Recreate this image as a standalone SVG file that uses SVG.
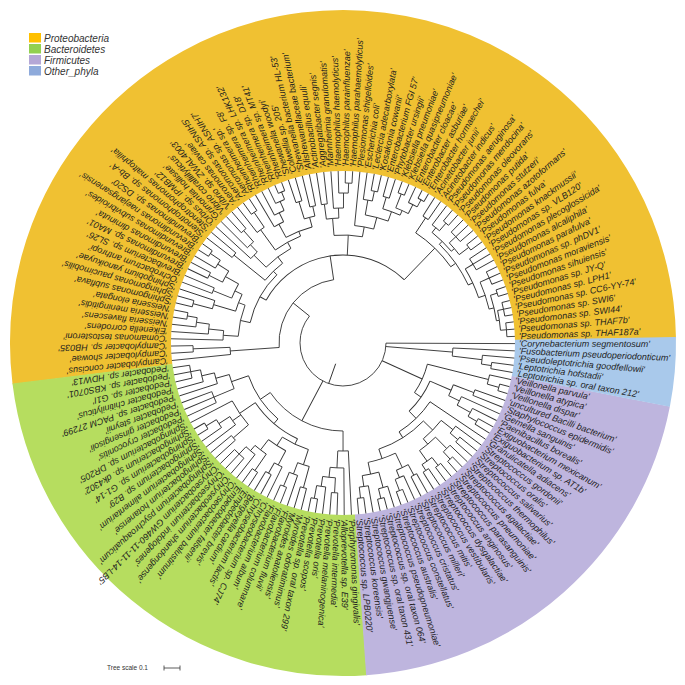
<svg xmlns="http://www.w3.org/2000/svg" width="685" height="685" viewBox="0 0 685 685">
<style>
.l{font-family:"Liberation Sans",Arial,sans-serif;font-style:italic;font-size:9px;fill:#1e1e1e}
.lg{font-family:"Liberation Sans",Arial,sans-serif;font-style:italic;font-size:10px;fill:#333}
.s{fill:none;stroke-width:161}
</style>
<rect width="685" height="685" fill="#fff"/>
<g id="sectors" transform="translate(343 343)">
<circle class="s" r="252.5" stroke="#F0C132" pathLength="360" stroke-dasharray="186.2 999" transform="rotate(172.9)"/>
<circle class="s" r="252.5" stroke="#B6DD5F" pathLength="360" stroke-dasharray="87.1 999" transform="rotate(85.9)"/>
<circle class="s" r="252.5" stroke="#BEB5DE" pathLength="360" stroke-dasharray="75 999" transform="rotate(11)"/>
<circle class="s" r="252.5" stroke="#A9C9EB" pathLength="360" stroke-dasharray="12.1 999" transform="rotate(-1.05)"/>
</g>
<g id="legend">
<rect x="29" y="33" width="12" height="9.5" fill="#FFC000"/><text class="lg" x="44" y="41.5">Proteobacteria</text>
<rect x="29" y="44" width="12" height="9.5" fill="#92D050"/><text class="lg" x="44" y="52.5">Bacteroidetes</text>
<rect x="29" y="55" width="12" height="9.5" fill="#B4A7D6"/><text class="lg" x="44" y="63.5">Firmicutes</text>
<rect x="29" y="66" width="12" height="9.5" fill="#8EAADB"/><text class="lg" x="44" y="74.5">Other_phyla</text>
</g>
<g id="scale">
<text x="107" y="670" font-family="Liberation Sans, Arial, sans-serif" font-size="6.5" fill="#333">Tree scale 0.1</text>
<path d="M164 668H180M164 665.5V670.5M180 665.5V670.5" stroke="#333" stroke-width="0.8" fill="none"/>
</g>
<g id="connectors" transform="translate(343 343)" fill="none" stroke="#333" stroke-width="0.9">
<line x1="22" x2="43" transform="rotate(109.49)"/>
<circle r="43" pathLength="360" stroke-dasharray="218.59 999" transform="rotate(0.2)"/>
<line x1="43" x2="172" transform="rotate(0.2)"/>
<line x1="43" x2="110" transform="rotate(4.73)"/>
<line x1="43" x2="87" transform="rotate(24.42)"/>
<line x1="43" x2="88" transform="rotate(117.85)"/>
<line x1="43" x2="64" transform="rotate(218.785)"/>
<circle r="110" pathLength="360" stroke-dasharray="4.22 999" transform="rotate(2.62)"/>
<line x1="110" x2="172" transform="rotate(2.62)"/>
<line x1="110" x2="140" transform="rotate(6.84)"/>
<circle r="140" pathLength="360" stroke-dasharray="3.625 999" transform="rotate(5.03)"/>
<line x1="140" x2="172" transform="rotate(5.03)"/>
<line x1="140" x2="150" transform="rotate(8.655)"/>
<circle r="150" pathLength="360" stroke-dasharray="2.41 999" transform="rotate(7.45)"/>
<line x1="150" x2="172" transform="rotate(7.45)"/>
<line x1="150" x2="172" transform="rotate(9.86)"/>
<circle r="87" pathLength="360" stroke-dasharray="20.65 999" transform="rotate(14.09)"/>
<line x1="87" x2="150" transform="rotate(14.09)"/>
<line x1="87" x2="95" transform="rotate(34.74)"/>
<circle r="150" pathLength="360" stroke-dasharray="3.625 999" transform="rotate(12.28)"/>
<line x1="150" x2="172" transform="rotate(12.28)"/>
<line x1="150" x2="162" transform="rotate(15.905)"/>
<circle r="162" pathLength="360" stroke-dasharray="2.41 999" transform="rotate(14.7)"/>
<line x1="162" x2="172" transform="rotate(14.7)"/>
<line x1="162" x2="172" transform="rotate(17.11)"/>
<circle r="95" pathLength="360" stroke-dasharray="22.275 999" transform="rotate(23.605)"/>
<line x1="95" x2="118" transform="rotate(23.605)"/>
<line x1="95" x2="105" transform="rotate(45.88)"/>
<circle r="118" pathLength="360" stroke-dasharray="5.74 999" transform="rotate(20.735)"/>
<line x1="118" x2="140" transform="rotate(20.735)"/>
<line x1="118" x2="130" transform="rotate(26.475)"/>
<circle r="140" pathLength="360" stroke-dasharray="2.41 999" transform="rotate(19.53)"/>
<line x1="140" x2="172" transform="rotate(19.53)"/>
<line x1="140" x2="172" transform="rotate(21.94)"/>
<circle r="130" pathLength="360" stroke-dasharray="4.23 999" transform="rotate(24.36)"/>
<line x1="130" x2="172" transform="rotate(24.36)"/>
<line x1="130" x2="145" transform="rotate(28.59)"/>
<circle r="145" pathLength="360" stroke-dasharray="3.62 999" transform="rotate(26.78)"/>
<line x1="145" x2="172" transform="rotate(26.78)"/>
<line x1="145" x2="155" transform="rotate(30.4)"/>
<circle r="155" pathLength="360" stroke-dasharray="2.42 999" transform="rotate(29.19)"/>
<line x1="155" x2="172" transform="rotate(29.19)"/>
<line x1="155" x2="172" transform="rotate(31.61)"/>
<circle r="105" pathLength="360" stroke-dasharray="23.7 999" transform="rotate(34.03)"/>
<line x1="105" x2="172" transform="rotate(34.03)"/>
<line x1="105" x2="112" transform="rotate(57.73)"/>
<circle r="112" pathLength="360" stroke-dasharray="27.185 999" transform="rotate(44.14)"/>
<line x1="112" x2="125" transform="rotate(44.14)"/>
<line x1="112" x2="122" transform="rotate(71.325)"/>
<circle r="125" pathLength="360" stroke-dasharray="11.78 999" transform="rotate(38.25)"/>
<line x1="125" x2="140" transform="rotate(38.25)"/>
<line x1="125" x2="132" transform="rotate(50.03)"/>
<circle r="140" pathLength="360" stroke-dasharray="3.625 999" transform="rotate(36.44)"/>
<line x1="140" x2="172" transform="rotate(36.44)"/>
<line x1="140" x2="150" transform="rotate(40.065)"/>
<circle r="150" pathLength="360" stroke-dasharray="2.41 999" transform="rotate(38.86)"/>
<line x1="150" x2="172" transform="rotate(38.86)"/>
<line x1="150" x2="172" transform="rotate(41.27)"/>
<circle r="132" pathLength="360" stroke-dasharray="9.06 999" transform="rotate(45.5)"/>
<line x1="132" x2="148" transform="rotate(45.5)"/>
<line x1="132" x2="145" transform="rotate(54.56)"/>
<circle r="148" pathLength="360" stroke-dasharray="3.625 999" transform="rotate(43.69)"/>
<line x1="148" x2="172" transform="rotate(43.69)"/>
<line x1="148" x2="158" transform="rotate(47.315)"/>
<circle r="158" pathLength="360" stroke-dasharray="2.41 999" transform="rotate(46.11)"/>
<line x1="158" x2="172" transform="rotate(46.11)"/>
<line x1="158" x2="172" transform="rotate(48.52)"/>
<circle r="145" pathLength="360" stroke-dasharray="4.835 999" transform="rotate(52.145)"/>
<line x1="145" x2="155" transform="rotate(52.145)"/>
<line x1="145" x2="152" transform="rotate(56.98)"/>
<circle r="155" pathLength="360" stroke-dasharray="2.41 999" transform="rotate(50.94)"/>
<line x1="155" x2="172" transform="rotate(50.94)"/>
<line x1="155" x2="172" transform="rotate(53.35)"/>
<circle r="152" pathLength="360" stroke-dasharray="2.42 999" transform="rotate(55.77)"/>
<line x1="152" x2="172" transform="rotate(55.77)"/>
<line x1="152" x2="172" transform="rotate(58.19)"/>
<circle r="122" pathLength="360" stroke-dasharray="13.59 999" transform="rotate(64.53)"/>
<line x1="122" x2="138" transform="rotate(64.53)"/>
<line x1="122" x2="134" transform="rotate(78.12)"/>
<circle r="138" pathLength="360" stroke-dasharray="5.435 999" transform="rotate(61.81)"/>
<line x1="138" x2="150" transform="rotate(61.81)"/>
<line x1="138" x2="146" transform="rotate(67.245)"/>
<circle r="150" pathLength="360" stroke-dasharray="2.42 999" transform="rotate(60.6)"/>
<line x1="150" x2="172" transform="rotate(60.6)"/>
<line x1="150" x2="172" transform="rotate(63.02)"/>
<circle r="146" pathLength="360" stroke-dasharray="3.63 999" transform="rotate(65.43)"/>
<line x1="146" x2="172" transform="rotate(65.43)"/>
<line x1="146" x2="158" transform="rotate(69.06)"/>
<circle r="158" pathLength="360" stroke-dasharray="2.42 999" transform="rotate(67.85)"/>
<line x1="158" x2="172" transform="rotate(67.85)"/>
<line x1="158" x2="172" transform="rotate(70.27)"/>
<circle r="134" pathLength="360" stroke-dasharray="7.24 999" transform="rotate(74.5)"/>
<line x1="134" x2="150" transform="rotate(74.5)"/>
<line x1="134" x2="145" transform="rotate(81.74)"/>
<circle r="150" pathLength="360" stroke-dasharray="3.63 999" transform="rotate(72.68)"/>
<line x1="150" x2="172" transform="rotate(72.68)"/>
<line x1="150" x2="160" transform="rotate(76.31)"/>
<circle r="160" pathLength="360" stroke-dasharray="2.42 999" transform="rotate(75.1)"/>
<line x1="160" x2="172" transform="rotate(75.1)"/>
<line x1="160" x2="172" transform="rotate(77.52)"/>
<circle r="145" pathLength="360" stroke-dasharray="3.625 999" transform="rotate(79.93)"/>
<line x1="145" x2="172" transform="rotate(79.93)"/>
<line x1="145" x2="156" transform="rotate(83.555)"/>
<circle r="156" pathLength="360" stroke-dasharray="2.41 999" transform="rotate(82.35)"/>
<line x1="156" x2="172" transform="rotate(82.35)"/>
<line x1="156" x2="172" transform="rotate(84.76)"/>
<circle r="88" pathLength="360" stroke-dasharray="55.755 999" transform="rotate(89.975)"/>
<line x1="88" x2="108" transform="rotate(89.975)"/>
<line x1="88" x2="100" transform="rotate(145.73)"/>
<circle r="108" pathLength="360" stroke-dasharray="5.59 999" transform="rotate(87.18)"/>
<line x1="108" x2="172" transform="rotate(87.18)"/>
<line x1="108" x2="125" transform="rotate(92.77)"/>
<circle r="125" pathLength="360" stroke-dasharray="6.34 999" transform="rotate(89.6)"/>
<line x1="125" x2="172" transform="rotate(89.6)"/>
<line x1="125" x2="135" transform="rotate(95.94)"/>
<circle r="135" pathLength="360" stroke-dasharray="5.435 999" transform="rotate(93.22)"/>
<line x1="135" x2="150" transform="rotate(93.22)"/>
<line x1="135" x2="145" transform="rotate(98.655)"/>
<circle r="150" pathLength="360" stroke-dasharray="2.42 999" transform="rotate(92.01)"/>
<line x1="150" x2="172" transform="rotate(92.01)"/>
<line x1="150" x2="172" transform="rotate(94.43)"/>
<circle r="145" pathLength="360" stroke-dasharray="3.63 999" transform="rotate(96.84)"/>
<line x1="145" x2="172" transform="rotate(96.84)"/>
<line x1="145" x2="158" transform="rotate(100.47)"/>
<circle r="158" pathLength="360" stroke-dasharray="2.42 999" transform="rotate(99.26)"/>
<line x1="158" x2="172" transform="rotate(99.26)"/>
<line x1="158" x2="172" transform="rotate(101.68)"/>
<circle r="100" pathLength="360" stroke-dasharray="30.275 999" transform="rotate(130.595)"/>
<line x1="100" x2="106" transform="rotate(130.595)"/>
<line x1="100" x2="118" transform="rotate(160.87)"/>
<circle r="106" pathLength="360" stroke-dasharray="30.35 999" transform="rotate(115.42)"/>
<line x1="106" x2="112" transform="rotate(115.42)"/>
<line x1="106" x2="125" transform="rotate(145.77)"/>
<circle r="112" pathLength="360" stroke-dasharray="14.8 999" transform="rotate(108.02)"/>
<line x1="112" x2="128" transform="rotate(108.02)"/>
<line x1="112" x2="122" transform="rotate(122.82)"/>
<circle r="128" pathLength="360" stroke-dasharray="5.435 999" transform="rotate(105.3)"/>
<line x1="128" x2="150" transform="rotate(105.3)"/>
<line x1="128" x2="140" transform="rotate(110.735)"/>
<circle r="150" pathLength="360" stroke-dasharray="2.42 999" transform="rotate(104.09)"/>
<line x1="150" x2="172" transform="rotate(104.09)"/>
<line x1="150" x2="172" transform="rotate(106.51)"/>
<circle r="140" pathLength="360" stroke-dasharray="3.63 999" transform="rotate(108.92)"/>
<line x1="140" x2="172" transform="rotate(108.92)"/>
<line x1="140" x2="155" transform="rotate(112.55)"/>
<circle r="155" pathLength="360" stroke-dasharray="2.42 999" transform="rotate(111.34)"/>
<line x1="155" x2="172" transform="rotate(111.34)"/>
<line x1="155" x2="172" transform="rotate(113.76)"/>
<circle r="122" pathLength="360" stroke-dasharray="9.665 999" transform="rotate(117.985)"/>
<line x1="122" x2="138" transform="rotate(117.985)"/>
<line x1="122" x2="135" transform="rotate(127.65)"/>
<circle r="138" pathLength="360" stroke-dasharray="3.63 999" transform="rotate(116.17)"/>
<line x1="138" x2="172" transform="rotate(116.17)"/>
<line x1="138" x2="150" transform="rotate(119.8)"/>
<circle r="150" pathLength="360" stroke-dasharray="2.42 999" transform="rotate(118.59)"/>
<line x1="150" x2="172" transform="rotate(118.59)"/>
<line x1="150" x2="172" transform="rotate(121.01)"/>
<circle r="135" pathLength="360" stroke-dasharray="6.04 999" transform="rotate(124.63)"/>
<line x1="135" x2="155" transform="rotate(124.63)"/>
<line x1="135" x2="142" transform="rotate(130.67)"/>
<circle r="155" pathLength="360" stroke-dasharray="2.42 999" transform="rotate(123.42)"/>
<line x1="155" x2="172" transform="rotate(123.42)"/>
<line x1="155" x2="172" transform="rotate(125.84)"/>
<circle r="142" pathLength="360" stroke-dasharray="4.835 999" transform="rotate(128.25)"/>
<line x1="142" x2="172" transform="rotate(128.25)"/>
<line x1="142" x2="152" transform="rotate(133.085)"/>
<circle r="152" pathLength="360" stroke-dasharray="4.83 999" transform="rotate(130.67)"/>
<line x1="152" x2="172" transform="rotate(130.67)"/>
<line x1="152" x2="172" transform="rotate(133.09)"/>
<line x1="152" x2="172" transform="rotate(135.5)"/>
<circle r="125" pathLength="360" stroke-dasharray="13.285 999" transform="rotate(139.125)"/>
<line x1="125" x2="145" transform="rotate(139.125)"/>
<line x1="125" x2="135" transform="rotate(144.865)"/>
<line x1="125" x2="172" transform="rotate(152.41)"/>
<circle r="145" pathLength="360" stroke-dasharray="2.41 999" transform="rotate(137.92)"/>
<line x1="145" x2="172" transform="rotate(137.92)"/>
<line x1="145" x2="172" transform="rotate(140.33)"/>
<circle r="135" pathLength="360" stroke-dasharray="4.23 999" transform="rotate(142.75)"/>
<line x1="135" x2="172" transform="rotate(142.75)"/>
<line x1="135" x2="148" transform="rotate(146.98)"/>
<circle r="148" pathLength="360" stroke-dasharray="3.62 999" transform="rotate(145.17)"/>
<line x1="148" x2="172" transform="rotate(145.17)"/>
<line x1="148" x2="160" transform="rotate(148.79)"/>
<circle r="160" pathLength="360" stroke-dasharray="2.42 999" transform="rotate(147.58)"/>
<line x1="160" x2="172" transform="rotate(147.58)"/>
<line x1="160" x2="172" transform="rotate(150)"/>
<circle r="118" pathLength="360" stroke-dasharray="7.25 999" transform="rotate(157.245)"/>
<line x1="118" x2="140" transform="rotate(157.245)"/>
<line x1="118" x2="132" transform="rotate(164.495)"/>
<circle r="140" pathLength="360" stroke-dasharray="4.83 999" transform="rotate(154.83)"/>
<line x1="140" x2="172" transform="rotate(154.83)"/>
<line x1="140" x2="172" transform="rotate(157.25)"/>
<line x1="140" x2="172" transform="rotate(159.66)"/>
<circle r="132" pathLength="360" stroke-dasharray="4.83 999" transform="rotate(162.08)"/>
<line x1="132" x2="172" transform="rotate(162.08)"/>
<line x1="132" x2="145" transform="rotate(166.91)"/>
<circle r="145" pathLength="360" stroke-dasharray="4.825 999" transform="rotate(164.5)"/>
<line x1="145" x2="172" transform="rotate(164.5)"/>
<line x1="145" x2="155" transform="rotate(169.325)"/>
<circle r="155" pathLength="360" stroke-dasharray="4.83 999" transform="rotate(166.91)"/>
<line x1="155" x2="172" transform="rotate(166.91)"/>
<line x1="155" x2="172" transform="rotate(169.33)"/>
<line x1="155" x2="172" transform="rotate(171.74)"/>
<circle r="64" pathLength="360" stroke-dasharray="85.63 999" transform="rotate(175.97)"/>
<line x1="64" x2="113" transform="rotate(175.97)"/>
<line x1="64" x2="88" transform="rotate(261.6)"/>
<circle r="113" pathLength="360" stroke-dasharray="3.625 999" transform="rotate(174.16)"/>
<line x1="113" x2="172" transform="rotate(174.16)"/>
<line x1="113" x2="150" transform="rotate(177.785)"/>
<circle r="150" pathLength="360" stroke-dasharray="2.41 999" transform="rotate(176.58)"/>
<line x1="150" x2="172" transform="rotate(176.58)"/>
<line x1="150" x2="172" transform="rotate(178.99)"/>
<circle r="88" pathLength="360" stroke-dasharray="104.94 999" transform="rotate(209.13)"/>
<line x1="88" x2="95" transform="rotate(209.13)"/>
<line x1="88" x2="108" transform="rotate(272.79)"/>
<line x1="88" x2="132" transform="rotate(314.07)"/>
<circle r="95" pathLength="360" stroke-dasharray="33.475 999" transform="rotate(192.395)"/>
<line x1="95" x2="105" transform="rotate(192.395)"/>
<line x1="95" x2="100" transform="rotate(225.87)"/>
<circle r="105" pathLength="360" stroke-dasharray="17.44 999" transform="rotate(183.675)"/>
<line x1="105" x2="120" transform="rotate(183.675)"/>
<line x1="105" x2="112" transform="rotate(201.115)"/>
<circle r="120" pathLength="360" stroke-dasharray="4.53 999" transform="rotate(181.41)"/>
<line x1="120" x2="172" transform="rotate(181.41)"/>
<line x1="120" x2="135" transform="rotate(185.94)"/>
<circle r="135" pathLength="360" stroke-dasharray="4.23 999" transform="rotate(183.82)"/>
<line x1="135" x2="172" transform="rotate(183.82)"/>
<line x1="135" x2="148" transform="rotate(188.05)"/>
<circle r="148" pathLength="360" stroke-dasharray="3.625 999" transform="rotate(186.24)"/>
<line x1="148" x2="172" transform="rotate(186.24)"/>
<line x1="148" x2="158" transform="rotate(189.865)"/>
<circle r="158" pathLength="360" stroke-dasharray="2.41 999" transform="rotate(188.66)"/>
<line x1="158" x2="172" transform="rotate(188.66)"/>
<line x1="158" x2="172" transform="rotate(191.07)"/>
<circle r="112" pathLength="360" stroke-dasharray="9.21 999" transform="rotate(196.51)"/>
<line x1="112" x2="135" transform="rotate(196.51)"/>
<line x1="112" x2="120" transform="rotate(205.72)"/>
<circle r="135" pathLength="360" stroke-dasharray="3.625 999" transform="rotate(194.695)"/>
<line x1="135" x2="155" transform="rotate(194.695)"/>
<line x1="135" x2="172" transform="rotate(198.32)"/>
<circle r="155" pathLength="360" stroke-dasharray="2.41 999" transform="rotate(193.49)"/>
<line x1="155" x2="172" transform="rotate(193.49)"/>
<line x1="155" x2="172" transform="rotate(195.9)"/>
<circle r="120" pathLength="360" stroke-dasharray="7.555 999" transform="rotate(201.945)"/>
<line x1="120" x2="140" transform="rotate(201.945)"/>
<line x1="120" x2="135" transform="rotate(209.5)"/>
<circle r="140" pathLength="360" stroke-dasharray="2.41 999" transform="rotate(200.74)"/>
<line x1="140" x2="172" transform="rotate(200.74)"/>
<line x1="140" x2="172" transform="rotate(203.15)"/>
<circle r="135" pathLength="360" stroke-dasharray="5.43 999" transform="rotate(206.78)"/>
<line x1="135" x2="150" transform="rotate(206.78)"/>
<line x1="135" x2="148" transform="rotate(212.21)"/>
<circle r="150" pathLength="360" stroke-dasharray="2.42 999" transform="rotate(205.57)"/>
<line x1="150" x2="172" transform="rotate(205.57)"/>
<line x1="150" x2="172" transform="rotate(207.99)"/>
<circle r="148" pathLength="360" stroke-dasharray="3.625 999" transform="rotate(210.4)"/>
<line x1="148" x2="172" transform="rotate(210.4)"/>
<line x1="148" x2="160" transform="rotate(214.025)"/>
<circle r="160" pathLength="360" stroke-dasharray="2.41 999" transform="rotate(212.82)"/>
<line x1="160" x2="172" transform="rotate(212.82)"/>
<line x1="160" x2="172" transform="rotate(215.23)"/>
<circle r="100" pathLength="360" stroke-dasharray="14.02 999" transform="rotate(218.86)"/>
<line x1="100" x2="140" transform="rotate(218.86)"/>
<line x1="100" x2="108" transform="rotate(232.88)"/>
<circle r="140" pathLength="360" stroke-dasharray="2.42 999" transform="rotate(217.65)"/>
<line x1="140" x2="172" transform="rotate(217.65)"/>
<line x1="140" x2="172" transform="rotate(220.07)"/>
<circle r="108" pathLength="360" stroke-dasharray="16.575 999" transform="rotate(224.595)"/>
<line x1="108" x2="125" transform="rotate(224.595)"/>
<line x1="108" x2="115" transform="rotate(241.17)"/>
<circle r="125" pathLength="360" stroke-dasharray="4.23 999" transform="rotate(222.48)"/>
<line x1="125" x2="172" transform="rotate(222.48)"/>
<line x1="125" x2="135" transform="rotate(226.71)"/>
<circle r="135" pathLength="360" stroke-dasharray="3.62 999" transform="rotate(224.9)"/>
<line x1="135" x2="172" transform="rotate(224.9)"/>
<line x1="135" x2="150" transform="rotate(228.52)"/>
<circle r="150" pathLength="360" stroke-dasharray="2.42 999" transform="rotate(227.31)"/>
<line x1="150" x2="172" transform="rotate(227.31)"/>
<line x1="150" x2="172" transform="rotate(229.73)"/>
<circle r="115" pathLength="360" stroke-dasharray="14.42 999" transform="rotate(233.96)"/>
<line x1="115" x2="140" transform="rotate(233.96)"/>
<line x1="115" x2="120" transform="rotate(248.38)"/>
<circle r="140" pathLength="360" stroke-dasharray="3.62 999" transform="rotate(232.15)"/>
<line x1="140" x2="172" transform="rotate(232.15)"/>
<line x1="140" x2="158" transform="rotate(235.77)"/>
<circle r="158" pathLength="360" stroke-dasharray="2.42 999" transform="rotate(234.56)"/>
<line x1="158" x2="172" transform="rotate(234.56)"/>
<line x1="158" x2="172" transform="rotate(236.98)"/>
<circle r="120" pathLength="360" stroke-dasharray="13.44 999" transform="rotate(241.66)"/>
<line x1="120" x2="135" transform="rotate(241.66)"/>
<line x1="120" x2="130" transform="rotate(255.1)"/>
<circle r="135" pathLength="360" stroke-dasharray="4.535 999" transform="rotate(239.39)"/>
<line x1="135" x2="172" transform="rotate(239.39)"/>
<line x1="135" x2="145" transform="rotate(243.925)"/>
<circle r="145" pathLength="360" stroke-dasharray="4.23 999" transform="rotate(241.81)"/>
<line x1="145" x2="172" transform="rotate(241.81)"/>
<line x1="145" x2="155" transform="rotate(246.04)"/>
<circle r="155" pathLength="360" stroke-dasharray="3.62 999" transform="rotate(244.23)"/>
<line x1="155" x2="172" transform="rotate(244.23)"/>
<line x1="155" x2="163" transform="rotate(247.85)"/>
<circle r="163" pathLength="360" stroke-dasharray="2.42 999" transform="rotate(246.64)"/>
<line x1="163" x2="172" transform="rotate(246.64)"/>
<line x1="163" x2="172" transform="rotate(249.06)"/>
<circle r="130" pathLength="360" stroke-dasharray="4.83 999" transform="rotate(252.685)"/>
<line x1="130" x2="148" transform="rotate(252.685)"/>
<line x1="130" x2="140" transform="rotate(257.515)"/>
<circle r="148" pathLength="360" stroke-dasharray="2.41 999" transform="rotate(251.48)"/>
<line x1="148" x2="172" transform="rotate(251.48)"/>
<line x1="148" x2="172" transform="rotate(253.89)"/>
<circle r="140" pathLength="360" stroke-dasharray="2.41 999" transform="rotate(256.31)"/>
<line x1="140" x2="172" transform="rotate(256.31)"/>
<line x1="140" x2="172" transform="rotate(258.72)"/>
<circle r="108" pathLength="360" stroke-dasharray="15.135 999" transform="rotate(265.22)"/>
<line x1="108" x2="125" transform="rotate(265.22)"/>
<line x1="108" x2="118" transform="rotate(280.355)"/>
<circle r="125" pathLength="360" stroke-dasharray="5.735 999" transform="rotate(262.35)"/>
<line x1="125" x2="140" transform="rotate(262.35)"/>
<line x1="125" x2="135" transform="rotate(268.085)"/>
<circle r="140" pathLength="360" stroke-dasharray="2.42 999" transform="rotate(261.14)"/>
<line x1="140" x2="172" transform="rotate(261.14)"/>
<line x1="140" x2="172" transform="rotate(263.56)"/>
<circle r="135" pathLength="360" stroke-dasharray="4.23 999" transform="rotate(265.97)"/>
<line x1="135" x2="172" transform="rotate(265.97)"/>
<line x1="135" x2="150" transform="rotate(270.2)"/>
<circle r="150" pathLength="360" stroke-dasharray="3.62 999" transform="rotate(268.39)"/>
<line x1="150" x2="172" transform="rotate(268.39)"/>
<line x1="150" x2="160" transform="rotate(272.01)"/>
<circle r="160" pathLength="360" stroke-dasharray="2.42 999" transform="rotate(270.8)"/>
<line x1="160" x2="172" transform="rotate(270.8)"/>
<line x1="160" x2="172" transform="rotate(273.22)"/>
<circle r="118" pathLength="360" stroke-dasharray="9.43 999" transform="rotate(275.64)"/>
<line x1="118" x2="172" transform="rotate(275.64)"/>
<line x1="118" x2="130" transform="rotate(285.07)"/>
<circle r="130" pathLength="360" stroke-dasharray="10.425 999" transform="rotate(279.86)"/>
<line x1="130" x2="145" transform="rotate(279.86)"/>
<line x1="130" x2="140" transform="rotate(290.285)"/>
<circle r="145" pathLength="360" stroke-dasharray="3.625 999" transform="rotate(278.05)"/>
<line x1="145" x2="172" transform="rotate(278.05)"/>
<line x1="145" x2="155" transform="rotate(281.675)"/>
<circle r="155" pathLength="360" stroke-dasharray="2.41 999" transform="rotate(280.47)"/>
<line x1="155" x2="172" transform="rotate(280.47)"/>
<line x1="155" x2="172" transform="rotate(282.88)"/>
<circle r="140" pathLength="360" stroke-dasharray="7.55 999" transform="rotate(286.51)"/>
<line x1="140" x2="152" transform="rotate(286.51)"/>
<line x1="140" x2="145" transform="rotate(294.06)"/>
<circle r="152" pathLength="360" stroke-dasharray="2.42 999" transform="rotate(285.3)"/>
<line x1="152" x2="172" transform="rotate(285.3)"/>
<line x1="152" x2="172" transform="rotate(287.72)"/>
<circle r="145" pathLength="360" stroke-dasharray="5.44 999" transform="rotate(291.34)"/>
<line x1="145" x2="160" transform="rotate(291.34)"/>
<line x1="145" x2="155" transform="rotate(296.78)"/>
<circle r="160" pathLength="360" stroke-dasharray="2.42 999" transform="rotate(290.13)"/>
<line x1="160" x2="172" transform="rotate(290.13)"/>
<line x1="160" x2="172" transform="rotate(292.55)"/>
<circle r="155" pathLength="360" stroke-dasharray="3.62 999" transform="rotate(294.97)"/>
<line x1="155" x2="172" transform="rotate(294.97)"/>
<line x1="155" x2="163" transform="rotate(298.59)"/>
<circle r="163" pathLength="360" stroke-dasharray="2.42 999" transform="rotate(297.38)"/>
<line x1="163" x2="172" transform="rotate(297.38)"/>
<line x1="163" x2="172" transform="rotate(299.8)"/>
<circle r="132" pathLength="360" stroke-dasharray="21.3 999" transform="rotate(303.42)"/>
<line x1="132" x2="150" transform="rotate(303.42)"/>
<line x1="132" x2="138" transform="rotate(324.72)"/>
<circle r="150" pathLength="360" stroke-dasharray="2.42 999" transform="rotate(302.21)"/>
<line x1="150" x2="172" transform="rotate(302.21)"/>
<line x1="150" x2="172" transform="rotate(304.63)"/>
<circle r="138" pathLength="360" stroke-dasharray="20.84 999" transform="rotate(314.3)"/>
<line x1="138" x2="142" transform="rotate(314.3)"/>
<line x1="138" x2="143" transform="rotate(335.14)"/>
<circle r="142" pathLength="360" stroke-dasharray="10.87 999" transform="rotate(308.86)"/>
<line x1="142" x2="148" transform="rotate(308.86)"/>
<line x1="142" x2="146" transform="rotate(319.73)"/>
<circle r="148" pathLength="360" stroke-dasharray="3.62 999" transform="rotate(307.05)"/>
<line x1="148" x2="172" transform="rotate(307.05)"/>
<line x1="148" x2="158" transform="rotate(310.67)"/>
<circle r="158" pathLength="360" stroke-dasharray="2.42 999" transform="rotate(309.46)"/>
<line x1="158" x2="172" transform="rotate(309.46)"/>
<line x1="158" x2="172" transform="rotate(311.88)"/>
<circle r="146" pathLength="360" stroke-dasharray="6.04 999" transform="rotate(316.71)"/>
<line x1="146" x2="155" transform="rotate(316.71)"/>
<line x1="146" x2="158" transform="rotate(322.75)"/>
<circle r="155" pathLength="360" stroke-dasharray="4.84 999" transform="rotate(314.29)"/>
<line x1="155" x2="172" transform="rotate(314.29)"/>
<line x1="155" x2="172" transform="rotate(316.71)"/>
<line x1="155" x2="172" transform="rotate(319.13)"/>
<circle r="158" pathLength="360" stroke-dasharray="2.42 999" transform="rotate(321.54)"/>
<line x1="158" x2="172" transform="rotate(321.54)"/>
<line x1="158" x2="172" transform="rotate(323.96)"/>
<circle r="143" pathLength="360" stroke-dasharray="12.685 999" transform="rotate(328.795)"/>
<line x1="143" x2="152" transform="rotate(328.795)"/>
<line x1="143" x2="150" transform="rotate(341.48)"/>
<circle r="152" pathLength="360" stroke-dasharray="4.83 999" transform="rotate(326.38)"/>
<line x1="152" x2="172" transform="rotate(326.38)"/>
<line x1="152" x2="172" transform="rotate(328.79)"/>
<line x1="152" x2="172" transform="rotate(331.21)"/>
<circle r="150" pathLength="360" stroke-dasharray="10.875 999" transform="rotate(336.04)"/>
<line x1="150" x2="160" transform="rotate(336.04)"/>
<line x1="150" x2="155" transform="rotate(346.915)"/>
<circle r="160" pathLength="360" stroke-dasharray="4.84 999" transform="rotate(333.62)"/>
<line x1="160" x2="172" transform="rotate(333.62)"/>
<line x1="160" x2="172" transform="rotate(336.04)"/>
<line x1="160" x2="172" transform="rotate(338.46)"/>
<circle r="155" pathLength="360" stroke-dasharray="9.67 999" transform="rotate(342.08)"/>
<line x1="155" x2="162" transform="rotate(342.08)"/>
<line x1="155" x2="158" transform="rotate(351.75)"/>
<circle r="162" pathLength="360" stroke-dasharray="2.42 999" transform="rotate(340.87)"/>
<line x1="162" x2="172" transform="rotate(340.87)"/>
<line x1="162" x2="172" transform="rotate(343.29)"/>
<circle r="158" pathLength="360" stroke-dasharray="7.245 999" transform="rotate(348.125)"/>
<line x1="158" x2="164" transform="rotate(348.125)"/>
<line x1="158" x2="164" transform="rotate(355.37)"/>
<circle r="164" pathLength="360" stroke-dasharray="4.83 999" transform="rotate(345.71)"/>
<line x1="164" x2="172" transform="rotate(345.71)"/>
<line x1="164" x2="172" transform="rotate(348.12)"/>
<line x1="164" x2="172" transform="rotate(350.54)"/>
<circle r="164" pathLength="360" stroke-dasharray="4.84 999" transform="rotate(352.95)"/>
<line x1="164" x2="172" transform="rotate(352.95)"/>
<line x1="164" x2="172" transform="rotate(355.37)"/>
<line x1="164" x2="172" transform="rotate(357.79)"/>
</g>
<g id="labels" class="l" transform="translate(343 343)">
<g id="n0"><text transform="rotate(0.2)" x="176" y="3">'Corynebacterium segmentosum'</text></g>
<g id="n1"><text transform="rotate(2.62)" x="176" y="3">'Fusobacterium pseudoperiodonticum'</text></g>
<g id="n2"><text transform="rotate(5.03)" x="176" y="3">'Pseudoleptotrichia goodfellowii'</text></g>
<g id="n3"><text transform="rotate(7.45)" x="176" y="3">'Leptotrichia hofstadii'</text></g>
<g id="n4"><text transform="rotate(9.86)" x="176" y="3">'Leptotrichia sp. oral taxon 212'</text></g>
<g id="n5"><text transform="rotate(12.28)" x="176" y="3">'Veillonella parvula'</text></g>
<g id="n6"><text transform="rotate(14.7)" x="176" y="3">'Veillonella atypica'</text></g>
<g id="n7"><text transform="rotate(17.11)" x="176" y="3">'Veillonella dispar'</text></g>
<g id="n8"><text transform="rotate(19.53)" x="176" y="3">'uncultured Bacilli bacterium'</text></g>
<g id="n9"><text transform="rotate(21.94)" x="176" y="3">'Staphylococcus epidermidis'</text></g>
<g id="n10"><text transform="rotate(24.36)" x="176" y="3">'Gemella sanguinis'</text></g>
<g id="n11"><text transform="rotate(26.78)" x="176" y="3">'Paenibacillus borealis'</text></g>
<g id="n12"><text transform="rotate(29.19)" x="176" y="3">'Exiguobacterium mexicanum'</text></g>
<g id="n13"><text transform="rotate(31.61)" x="176" y="3">'Exiguobacterium sp. AT1b'</text></g>
<g id="n14"><text transform="rotate(34.03)" x="176" y="3">'Granulicatella adiacens'</text></g>
<g id="n15"><text transform="rotate(36.44)" x="176" y="3">'Streptococcus gordonii'</text></g>
<g id="n16"><text transform="rotate(38.86)" x="176" y="3">'Streptococcus oralis'</text></g>
<g id="n17"><text transform="rotate(41.27)" x="176" y="3">'Streptococcus salivarius'</text></g>
<g id="n18"><text transform="rotate(43.69)" x="176" y="3">'Streptococcus thermophilus'</text></g>
<g id="n19"><text transform="rotate(46.11)" x="176" y="3">'Streptococcus agalactiae'</text></g>
<g id="n20"><text transform="rotate(48.52)" x="176" y="3">'Streptococcus pneumoniae'</text></g>
<g id="n21"><text transform="rotate(50.94)" x="176" y="3">'Streptococcus parasanguinis'</text></g>
<g id="n22"><text transform="rotate(53.35)" x="176" y="3">'Streptococcus anginosus'</text></g>
<g id="n23"><text transform="rotate(55.77)" x="176" y="3">'Streptococcus dysgalactiae'</text></g>
<g id="n24"><text transform="rotate(58.19)" x="176" y="3">'Streptococcus vestibularis'</text></g>
<g id="n25"><text transform="rotate(60.6)" x="176" y="3">'Streptococcus mitis'</text></g>
<g id="n26"><text transform="rotate(63.02)" x="176" y="3">'Streptococcus milleri'</text></g>
<g id="n27"><text transform="rotate(65.43)" x="176" y="3">'Streptococcus cristatus'</text></g>
<g id="n28"><text transform="rotate(67.85)" x="176" y="3">'Streptococcus constellatus'</text></g>
<g id="n29"><text transform="rotate(70.27)" x="176" y="3">'Streptococcus australis'</text></g>
<g id="n30"><text transform="rotate(72.68)" x="176" y="3">'Streptococcus pseudopneumoniae'</text></g>
<g id="n31"><text transform="rotate(75.1)" x="176" y="3">'Streptococcus sp. oral taxon 064'</text></g>
<g id="n32"><text transform="rotate(77.52)" x="176" y="3">'Streptococcus sp. oral taxon 431'</text></g>
<g id="n33"><text transform="rotate(79.93)" x="176" y="3">'Streptococcus gwangjuense'</text></g>
<g id="n34"><text transform="rotate(82.35)" x="176" y="3">'Streptococcus koreensis'</text></g>
<g id="n35"><text transform="rotate(84.76)" x="176" y="3">'Streptococcus sp. LPB0220'</text></g>
<g id="n36"><text transform="rotate(87.18)" x="176" y="3">'Porphyromonas gingivalis'</text></g>
<g id="n37"><text transform="rotate(89.6)" x="176" y="3">'Alloprevotella sp. E39'</text></g>
<g id="n38"><text transform="rotate(92.01)" x="176" y="3">'Prevotella intermedia'</text></g>
<g id="n39"><text transform="rotate(94.43)" x="176" y="3">'Prevotella melaninogenica'</text></g>
<g id="n40"><text transform="rotate(96.84)" x="176" y="3">'Prevotella oris'</text></g>
<g id="n41"><text transform="rotate(99.26)" x="176" y="3">'Prevotella scopos'</text></g>
<g id="n42"><text transform="rotate(101.68)" x="176" y="3">'Prevotella sp. oral taxon 299'</text></g>
<g id="n43"><text transform="rotate(104.09)" x="176" y="3">'Myroides odoratimimus'</text></g>
<g id="n44"><text transform="rotate(106.51)" x="176" y="3">'Myroides anatoliensis'</text></g>
<g id="n45"><text transform="rotate(108.92)" x="176" y="3">'Flavobacterium fluvii'</text></g>
<g id="n46"><text transform="rotate(111.34)" x="176" y="3">'Flavobacterium columnare'</text></g>
<g id="n47"><text transform="rotate(113.76)" x="176" y="3">'Flavobacterium album'</text></g>
<g id="n48"><text transform="rotate(116.17)" x="176" y="3">'Chryseobacterium sp. CJ74'</text></g>
<g id="n49"><text transform="rotate(118.59)" x="176" y="3">'Chryseobacterium lactis'</text></g>
<g id="n50"><text transform="rotate(121.01)" x="176" y="3">'Bergeyella cardium'</text></g>
<g id="n51"><text transform="rotate(123.42)" x="176" y="3">'Empedobacter brevis'</text></g>
<g id="n52"><text transform="rotate(125.84)" x="176" y="3">'Empedobacter falsenii'</text></g>
<g id="n53"><text transform="rotate(128.25)" x="176" y="3">'Chryseobacterium balustinum'</text></g>
<g id="n54"><text transform="rotate(130.67)" x="176" y="3">'Chryseobacterium shandongense'</text></g>
<g id="n55"><text transform="rotate(133.09)" x="176" y="3">'Chryseobacterium indologenes'</text></g>
<g id="n56"><text transform="rotate(135.5)" x="176" y="3">'Chryseobacterium GW460-11-11-14-LB5'</text></g>
<g id="n57"><text transform="rotate(137.92)" x="176" y="3">'Sphingobacterium psychroaquaticum'</text></g>
<g id="n58"><text transform="rotate(140.33)" x="176" y="3">'Sphingobacterium hotanense'</text></g>
<g id="n59"><text transform="rotate(142.75)" x="176" y="3">'Sphingobacterium alimentarium'</text></g>
<g id="n60"><text transform="rotate(145.17)" x="176" y="3">'Sphingobacterium sp. B29'</text></g>
<g id="n61"><text transform="rotate(147.58)" x="176" y="3">'Sphingobacterium sp. G1-14'</text></g>
<g id="n62"><text transform="rotate(150)" x="176" y="3">'Sphingobacterium sp. dk4302'</text></g>
<g id="n63"><text transform="rotate(152.41)" x="176" y="3">'Sphingobacterium sp. DR205'</text></g>
<g id="n64"><text transform="rotate(154.83)" x="176" y="3">'Pedobacter cryoconitis'</text></g>
<g id="n65"><text transform="rotate(157.25)" x="176" y="3">'Pedobacter ginsengisoli'</text></g>
<g id="n66"><text transform="rotate(159.66)" x="176" y="3">'Pedobacter steynii'</text></g>
<g id="n67"><text transform="rotate(162.08)" x="176" y="3">'Pedobacter sp. PACM 27299'</text></g>
<g id="n68"><text transform="rotate(164.5)" x="176" y="3">'Pedobacter chitinilyticus'</text></g>
<g id="n69"><text transform="rotate(166.91)" x="176" y="3">'Pedobacter sp. G1I'</text></g>
<g id="n70"><text transform="rotate(169.33)" x="176" y="3">'Pedobacter sp. KBS0701'</text></g>
<g id="n71"><text transform="rotate(171.74)" x="176" y="3">'Pedobacter sp. HDW13'</text></g>
<g id="n72"><text transform="rotate(174.16)" x="176" y="3">'Campylobacter concisus'</text></g>
<g id="n73"><text transform="rotate(176.58)" x="176" y="3">'Campylobacter showae'</text></g>
<g id="n74"><text transform="rotate(178.99)" x="176" y="3">'Campylobacter sp. HB035'</text></g>
<g id="n75"><text transform="rotate(181.41)" x="176" y="3">'Comamonas testosteroni'</text></g>
<g id="n76"><text transform="rotate(183.82)" x="176" y="3">'Eikenella corrodens'</text></g>
<g id="n77"><text transform="rotate(186.24)" x="176" y="3">'Neisseria flavescens'</text></g>
<g id="n78"><text transform="rotate(188.66)" x="176" y="3">'Neisseria meningitidis'</text></g>
<g id="n79"><text transform="rotate(191.07)" x="176" y="3">'Neisseria elongata'</text></g>
<g id="n80"><text transform="rotate(193.49)" x="176" y="3">'Sphingomonas subflava'</text></g>
<g id="n81"><text transform="rotate(195.9)" x="176" y="3">'Sphingomonas paucimobilis'</text></g>
<g id="n82"><text transform="rotate(198.32)" x="176" y="3">'Sphingobium yanoikuyae'</text></g>
<g id="n83"><text transform="rotate(200.74)" x="176" y="3">'Ochrobactrum anthropi'</text></g>
<g id="n84"><text transform="rotate(203.15)" x="176" y="3">'Brevibacterium sp. SL26'</text></g>
<g id="n85"><text transform="rotate(205.57)" x="176" y="3">'Brevundimonas sp. MA01'</text></g>
<g id="n86"><text transform="rotate(207.99)" x="176" y="3">'Brevundimonas diminuta'</text></g>
<g id="n87"><text transform="rotate(210.4)" x="176" y="3">'Brevundimonas subvibrioides'</text></g>
<g id="n88"><text transform="rotate(212.82)" x="176" y="3">'Brevundimonas naejangsanensis'</text></g>
<g id="n89"><text transform="rotate(215.23)" x="176" y="3">'Brevundimonas sp. DS20'</text></g>
<g id="n90"><text transform="rotate(217.65)" x="176" y="3">'Stenotrophomonas sp. Bb-A'</text></g>
<g id="n91"><text transform="rotate(220.07)" x="176" y="3">'Stenotrophomonas maltophilia'</text></g>
<g id="n92"><text transform="rotate(222.48)" x="176" y="3">'Orbus sp. IPMB12'</text></g>
<g id="n93"><text transform="rotate(224.9)" x="176" y="3">'Grimontia hollisae'</text></g>
<g id="n94"><text transform="rotate(227.31)" x="176" y="3">'Vibrio coralliilyticus'</text></g>
<g id="n95"><text transform="rotate(229.73)" x="176" y="3">'Vibrio sp. ZWAL4003'</text></g>
<g id="n96"><text transform="rotate(232.15)" x="176" y="3">'Aeromonas caviae'</text></g>
<g id="n97"><text transform="rotate(234.56)" x="176" y="3">'Aeromonas sp. ASNIH5'</text></g>
<g id="n98"><text transform="rotate(236.98)" x="176" y="3">'Aeromonas sp. ASNIH7'</text></g>
<g id="n99"><text transform="rotate(239.39)" x="176" y="3">'Rheinheimera sp.'</text></g>
<g id="n100"><text transform="rotate(241.81)" x="176" y="3">'Rheinheimera sp. F8'</text></g>
<g id="n101"><text transform="rotate(244.23)" x="176" y="3">'Rheinheimera sp. LHK132'</text></g>
<g id="n102"><text transform="rotate(246.64)" x="176" y="3">'Rheinheimera sp. D18'</text></g>
<g id="n103"><text transform="rotate(249.06)" x="176" y="3">'Rheinheimera sp. MT41'</text></g>
<g id="n104"><text transform="rotate(251.48)" x="176" y="3">'Shewanella woodyi'</text></g>
<g id="n105"><text transform="rotate(253.89)" x="176" y="3">'Colwellia sp. 205'</text></g>
<g id="n106"><text transform="rotate(256.31)" x="176" y="3">'Shewanella bacterium HL-53'</text></g>
<g id="n107"><text transform="rotate(258.72)" x="176" y="3">'Alishewanellaceae bacterium'</text></g>
<g id="n108"><text transform="rotate(261.14)" x="176" y="3">'Actinobacillus equuli'</text></g>
<g id="n109"><text transform="rotate(263.56)" x="176" y="3">'Aggregatibacter segnis'</text></g>
<g id="n110"><text transform="rotate(265.97)" x="176" y="3">'Mannheimia granulomatis'</text></g>
<g id="n111"><text transform="rotate(268.39)" x="176" y="3">'Haemophilus haemolyticus'</text></g>
<g id="n112"><text transform="rotate(270.8)" x="176" y="3">'Haemophilus parainfluenzae'</text></g>
<g id="n113"><text transform="rotate(273.22)" x="176" y="3">'Haemophilus parahaemolyticus'</text></g>
<g id="n114"><text transform="rotate(275.64)" x="176" y="3">'Plesiomonas shigelloides'</text></g>
<g id="n115"><text transform="rotate(278.05)" x="176" y="3">'Escherichia coli'</text></g>
<g id="n116"><text transform="rotate(280.47)" x="176" y="3">'Leclercia adecarboxylata'</text></g>
<g id="n117"><text transform="rotate(282.88)" x="176" y="3">'Kosakonia cowanii'</text></g>
<g id="n118"><text transform="rotate(285.3)" x="176" y="3">'Enterobacterium FGI 57'</text></g>
<g id="n119"><text transform="rotate(287.72)" x="176" y="3">'Phytobacter ursingii'</text></g>
<g id="n120"><text transform="rotate(290.13)" x="176" y="3">'Klebsiella pneumoniae'</text></g>
<g id="n121"><text transform="rotate(292.55)" x="176" y="3">'Klebsiella quasipneumoniae'</text></g>
<g id="n122"><text transform="rotate(294.97)" x="176" y="3">'Enterobacter cloacae'</text></g>
<g id="n123"><text transform="rotate(297.38)" x="176" y="3">'Enterobacter asburiae'</text></g>
<g id="n124"><text transform="rotate(299.8)" x="176" y="3">'Enterobacter hormaechei'</text></g>
<g id="n125"><text transform="rotate(302.21)" x="176" y="3">'Acinetobacter junii'</text></g>
<g id="n126"><text transform="rotate(304.63)" x="176" y="3">'Acinetobacter indicus'</text></g>
<g id="n127"><text transform="rotate(307.05)" x="176" y="3">'Pseudomonas aeruginosa'</text></g>
<g id="n128"><text transform="rotate(309.46)" x="176" y="3">'Pseudomonas mendocina'</text></g>
<g id="n129"><text transform="rotate(311.88)" x="176" y="3">'Pseudomonas oleovorans'</text></g>
<g id="n130"><text transform="rotate(314.29)" x="176" y="3">'Pseudomonas putida'</text></g>
<g id="n131"><text transform="rotate(316.71)" x="176" y="3">'Pseudomonas stutzeri'</text></g>
<g id="n132"><text transform="rotate(319.13)" x="176" y="3">'Pseudomonas azotoformans'</text></g>
<g id="n133"><text transform="rotate(321.54)" x="176" y="3">'Pseudomonas fulva'</text></g>
<g id="n134"><text transform="rotate(323.96)" x="176" y="3">'Pseudomonas knackmussii'</text></g>
<g id="n135"><text transform="rotate(326.38)" x="176" y="3">'Pseudomonas sp. VLB120'</text></g>
<g id="n136"><text transform="rotate(328.79)" x="176" y="3">'Pseudomonas plecoglossicida'</text></g>
<g id="n137"><text transform="rotate(331.21)" x="176" y="3">'Pseudomonas alcaliphila'</text></g>
<g id="n138"><text transform="rotate(333.62)" x="176" y="3">'Pseudomonas parafulva'</text></g>
<g id="n139"><text transform="rotate(336.04)" x="176" y="3">'Pseudomonas sp. phDV1'</text></g>
<g id="n140"><text transform="rotate(338.46)" x="176" y="3">'Pseudomonas moraviensis'</text></g>
<g id="n141"><text transform="rotate(340.87)" x="176" y="3">'Pseudomonas sihuiensis'</text></g>
<g id="n142"><text transform="rotate(343.29)" x="176" y="3">'Pseudomonas sp. JY-Q'</text></g>
<g id="n143"><text transform="rotate(345.71)" x="176" y="3">'Pseudomonas sp. LPH1'</text></g>
<g id="n144"><text transform="rotate(348.12)" x="176" y="3">'Pseudomonas sp. CC6-YY-74'</text></g>
<g id="n145"><text transform="rotate(350.54)" x="176" y="3">'Pseudomonas sp. SWI6'</text></g>
<g id="n146"><text transform="rotate(352.95)" x="176" y="3">'Pseudomonas sp. SWI44'</text></g>
<g id="n147"><text transform="rotate(355.37)" x="176" y="3">'Pseudomonas sp. THAF7b'</text></g>
<g id="n148"><text transform="rotate(357.79)" x="176" y="3">'Pseudomonas sp. THAF187a'</text></g>
</g>
</svg>
